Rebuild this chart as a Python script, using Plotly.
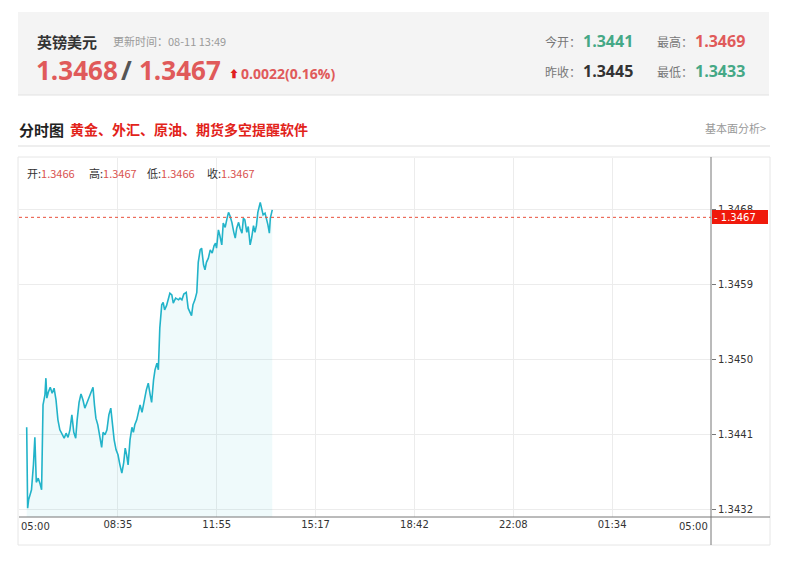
import plotly.graph_objects as go

# ---------------- data ----------------
minutes_since_open = [
    16, 18, 20, 23, 26, 30, 33, 36, 40, 44, 47, 50, 52, 54, 56, 58, 61, 65, 69, 73,
    77, 81, 85, 90, 94, 98, 102, 106, 110, 114, 118, 121, 125, 129, 133, 137, 142, 146, 150, 154,
    157, 160, 164, 169, 172, 175, 179, 183, 187, 191, 194, 198, 202, 206, 210, 214, 218, 221, 224, 227,
    231, 235, 238, 241, 245, 249, 252, 256, 259, 262, 265, 269, 273, 276, 280, 283, 287, 290, 293, 297,
    300, 303, 307, 311, 314, 318, 321, 326, 332, 335, 339, 343, 348, 352, 356, 359, 362, 366, 370, 373,
    377, 380, 384, 387, 390, 394, 398, 402, 406, 409, 411, 415, 418, 422, 425, 429, 433, 436, 439, 443,
    447, 450, 453, 457, 460, 464, 467, 470, 474, 477, 481, 484, 488, 491, 494, 497, 502, 505, 508, 512,
    515, 518, 521, 523, 527,
]
prices = [
    1.34418, 1.34321, 1.34331, 1.34338, 1.34343, 1.34373, 1.34406, 1.34352, 1.34357, 1.34350,
    1.34343, 1.34445, 1.34451, 1.34457, 1.34477, 1.34453, 1.34460, 1.34466, 1.34459, 1.34465,
    1.34451, 1.34427, 1.34415, 1.34409, 1.34405, 1.34411, 1.34406, 1.34415, 1.34433, 1.34412,
    1.34405, 1.34427, 1.34448, 1.34458, 1.34451, 1.34441, 1.34448, 1.34454, 1.34460, 1.34466,
    1.34445, 1.34429, 1.34421, 1.34405, 1.34394, 1.34412, 1.34409, 1.34415, 1.34433, 1.34441,
    1.34421, 1.34403, 1.34391, 1.34385, 1.34373, 1.34363, 1.34376, 1.34393, 1.34385, 1.34373,
    1.34403, 1.34418, 1.34412, 1.34421, 1.34427, 1.34436, 1.34445, 1.34436, 1.34448, 1.34454,
    1.34463, 1.34471, 1.34457, 1.34448, 1.34475, 1.34487, 1.34495, 1.34487, 1.34537, 1.34565,
    1.34568, 1.34559, 1.34564, 1.34571, 1.34579, 1.34577, 1.34567, 1.34573, 1.34571, 1.34573,
    1.34571, 1.34578, 1.34580, 1.34561, 1.34556, 1.34552, 1.34565, 1.34571, 1.34580, 1.34616,
    1.34631, 1.34633, 1.34613, 1.34607, 1.34616, 1.34621, 1.34631, 1.34627, 1.34636, 1.34639,
    1.34633, 1.34655, 1.34648, 1.34637, 1.34663, 1.34658, 1.34669, 1.34676, 1.34672, 1.34664,
    1.34652, 1.34645, 1.34657, 1.34664, 1.34657, 1.34651, 1.34669, 1.34667, 1.34652, 1.34659,
    1.34637, 1.34645, 1.34660, 1.34652, 1.34660, 1.34676, 1.34688, 1.34681, 1.34673, 1.34675,
    1.34669, 1.34661, 1.34651, 1.34669, 1.34679,
]
x_tick_minutes = [0, 205.714, 411.429, 617.143, 822.857, 1028.571, 1234.286, 1440]
x_tick_labels = ["05:00", "08:35", "11:55", "15:17", "18:42", "22:08", "01:34", "05:00"]
y_tick_values = [1.3432, 1.3441, 1.3450, 1.3459, 1.3468]
last_price = 1.3467

bid, ask = "1.3468", "1.3467"
change_text = "0.0022(0.16%)"
ohlc_labels = ["开:", "高:", "低:", "收:"]
ohlc_values = ["1.3466", "1.3467", "1.3466", "1.3467"]

# ---------------- geometry helpers ----------------
# page body has an 8px margin, so the figure is drawn 8px smaller and all
# reference pixel positions are shifted by that offset.
OFF = 8
W, H = 800 - 2 * OFF, 570 - 2 * OFF
PL, PR, PT, PB = 19, 711, 158, 517          # plot area in reference pixels
Y_LO, Y_HI = 1.343104, 1.347412


def px(X):
    return (X - PL) / (PR - PL)


def py(Y):
    return (PB - Y) / (PB - PT)


def yv(Y):
    return Y_LO + (PB - Y) / (PB - PT) * (Y_HI - Y_LO)


FONT = "Microsoft YaHei, Noto Sans CJK SC, sans-serif"
NUMFONT = "Open Sans, Noto Sans, sans-serif"
RED = "#e05a5a"
GREEN = "#45a886"

fig = go.Figure()
fig.add_trace(go.Scatter(
    x=minutes_since_open, y=prices, mode="lines",
    line=dict(color="#22b3c9", width=1.6),
    fill="tozeroy", fillcolor="rgba(34,179,201,0.07)",
    hoverinfo="skip", showlegend=False,
))

shapes = []
# header card
shapes.append(dict(type="rect", xref="paper", yref="paper", x0=px(18), x1=px(769), y0=py(95), y1=py(12),
                   fillcolor="#f4f4f4", line=dict(width=0), layer="below"))
shapes.append(dict(type="line", xref="paper", yref="paper", x0=px(18), x1=px(769), y0=py(95), y1=py(95),
                   line=dict(color="#e2e2e2", width=1)))
# section separator
shapes.append(dict(type="line", xref="paper", yref="paper", x0=px(18), x1=px(770), y0=py(146), y1=py(146),
                   line=dict(color="#dddddd", width=1)))
# chart box
shapes.append(dict(type="rect", xref="paper", yref="paper", x0=px(18), x1=px(770), y0=py(545), y1=py(157),
                   line=dict(color="#e6e6e6", width=1), layer="below"))
# axis lines
shapes.append(dict(type="line", xref="paper", yref="paper", x0=px(19), x1=px(770), y0=0, y1=0,
                   line=dict(color="#777777", width=1)))
shapes.append(dict(type="line", xref="paper", yref="paper", x0=1, x1=1, y0=py(545), y1=py(157),
                   line=dict(color="#777777", width=1)))
# last price dotted line
shapes.append(dict(type="line", xref="x", yref="y", x0=0, x1=1440, y0=last_price, y1=last_price,
                   line=dict(color="#e8503c", width=1, dash="dot")))
# last price box
shapes.append(dict(type="rect", xref="paper", yref="y", x0=px(712), x1=px(768), y0=yv(224), y1=yv(210),
                   fillcolor="#f01a0c", line=dict(width=0)))

ann = []


def text(X, Y, s, size, color, bold=False, anchor="left", family=FONT):
    ann.append(dict(xref="paper", yref="paper", x=px(X), y=py(Y), text=f"<b>{s}</b>" if bold else s,
                    showarrow=False, xanchor=anchor, yanchor="middle",
                    font=dict(family=family, size=size, color=color)))


# header
text(35, 41, "英镑美元", 15, "#333333", bold=True)
text(111, 41, "更新时间：08-11 13:49", 11, "#9a9a9a")
text(34, 70, bid, 26, RED, bold=True, family=NUMFONT)
text(119, 70, "/", 26, "#555555", bold=True, family=NUMFONT)
text(137, 70, ask, 26, RED, bold=True, family=NUMFONT)
text(227, 73, "⬆", 10, "#e02020")
text(239, 73, change_text, 14, RED, bold=True, family=NUMFONT)

text(543, 41, "今开：", 12, "#777777")
text(581, 41, "1.3441", 16, GREEN, bold=True, family=NUMFONT)
text(655, 41, "最高：", 12, "#777777")
text(693, 41, "1.3469", 16, RED, bold=True, family=NUMFONT)
text(543, 71, "昨收：", 12, "#777777")
text(581, 71, "1.3445", 16, "#333333", bold=True, family=NUMFONT)
text(655, 71, "最低：", 12, "#777777")
text(693, 71, "1.3433", 16, GREEN, bold=True, family=NUMFONT)

# section header
text(17, 129, "分时图", 15, "#222222", bold=True)
text(68, 129, "黄金、外汇、原油、期货多空提醒软件", 14, "#e2231a", bold=True)
text(768, 128, "基本面分析>", 11, "#999999", anchor="right")

# OHLC line
for xpos, lab, val in zip([25, 87, 145, 205], ohlc_labels, ohlc_values):
    text(xpos, 173, f"{lab}<span style='color:#d9534f'>{val}</span>", 11, "#333333")

# last price label
ann.append(dict(xref="paper", yref="y", x=px(712), y=last_price, text="- " + f"{last_price:.4f}",
                showarrow=False, xanchor="left", yanchor="middle",
                font=dict(family="Tahoma, DejaVu Sans, sans-serif", size=10, color="white")))
# first / last x labels (aligned to edges)
text(19, 526, x_tick_labels[0], 10, "#333333", family="Tahoma, DejaVu Sans, sans-serif")
text(710, 526, x_tick_labels[-1], 10, "#333333", anchor="right", family="Tahoma, DejaVu Sans, sans-serif")

fig.update_layout(
    width=W, height=H,
    margin=dict(l=PL - OFF, r=W - (PR - OFF), t=PT - OFF, b=H - (PB - OFF), pad=0),
    paper_bgcolor="white", plot_bgcolor="rgba(0,0,0,0)",
    shapes=shapes, annotations=ann, showlegend=False,
    xaxis=dict(range=[0, 1440], tickvals=x_tick_minutes,
               ticktext=[""] + x_tick_labels[1:-1] + [""],
               showgrid=True, gridcolor="#ececec", gridwidth=1, zeroline=False, showline=False,
               ticks="", tickfont=dict(family="Tahoma, DejaVu Sans, sans-serif", size=10, color="#333333"),
               fixedrange=True),
    yaxis=dict(range=[Y_LO, Y_HI], side="right", tickvals=y_tick_values,
               ticktext=[f"{v:.4f}" for v in y_tick_values],
               showgrid=True, gridcolor="#ececec", gridwidth=1, zeroline=False, showline=False,
               ticks="outside", ticklen=4, tickcolor="#777777",
               tickfont=dict(family="Tahoma, DejaVu Sans, sans-serif", size=10, color="#333333"),
               fixedrange=True),
)

fig.write_html("out.html")
